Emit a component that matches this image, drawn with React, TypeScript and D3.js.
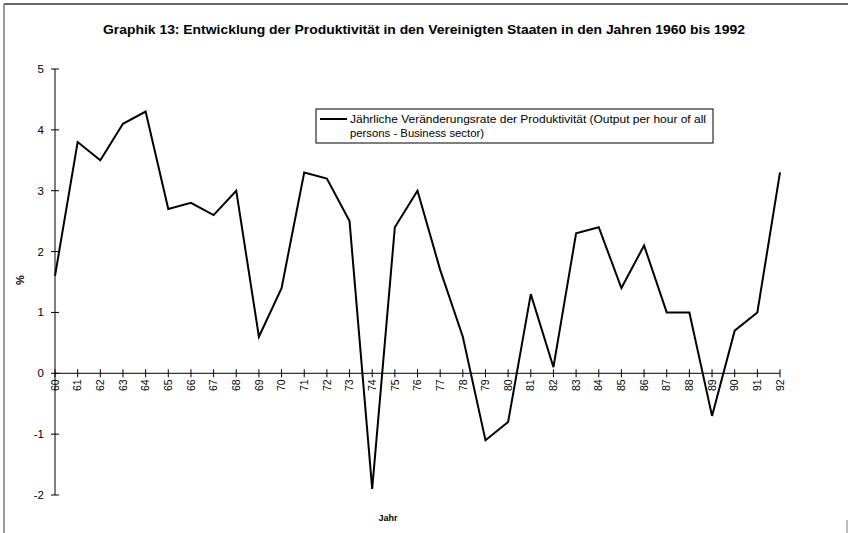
import React from "react";
import * as d3 from "d3";

const years = [60,61,62,63,64,65,66,67,68,69,70,71,72,73,74,75,76,77,78,79,80,81,82,83,84,85,86,87,88,89,90,91,92];
const values = [1.6,3.8,3.5,4.1,4.3,2.7,2.8,2.6,3.0,0.6,1.4,3.3,3.2,2.5,-1.9,2.4,3.0,1.7,0.6,-1.1,-0.8,1.3,0.1,2.3,2.4,1.4,2.1,1.0,1.0,-0.7,0.7,1.0,3.3];
const yTicks = [-2,-1,0,1,2,3,4,5];
const title = "Graphik 13: Entwicklung der Produktivität in den Vereinigten Staaten in den Jahren 1960 bis 1992";
const legendLine1 = "Jährliche Veränderungsrate der Produktivität (Output per hour of all";
const legendLine2 = "persons - Business sector)";
const xTitle = "Jahr";
const yTitle = "%";

export default function App() {
  const W = 848, H = 533;
  const x = d3.scaleLinear().domain([60, 92]).range([55, 780]);
  const y = d3.scaleLinear().domain([-2, 5]).range([495, 69]);
  const line = d3.line<number>().x((_, i) => x(years[i])).y((d) => y(d));
  const font = "'Liberation Sans', Arial, sans-serif";
  return (
    <svg width={W} height={H} style={{ position: "absolute", left: 0, top: 0, background: "#fff" }} fontFamily={font}>
      <line x1={4} y1={4} x2={848} y2={4} stroke="#333" strokeWidth={1.5} />
      <line x1={4} y1={4} x2={4} y2={533} stroke="#555" strokeWidth={1.2} />
      <line x1={847} y1={520} x2={847} y2={533} stroke="#777" strokeWidth={1} />
      <text x={103} y={34} fontWeight="bold" fontSize={13} textLength={642} lengthAdjust="spacingAndGlyphs">{title}</text>
      {/* y axis */}
      <line x1={x(60)} x2={x(60)} y1={y(5)} y2={y(-2)} stroke="#000" strokeWidth={1} />
      {yTicks.map((t) => (
        <g key={t}>
          <line x1={x(60) - 4} x2={x(60) + 4} y1={y(t)} y2={y(t)} stroke="#000" />
          <text x={x(60) - 11} y={y(t)} dy="0.35em" textAnchor="end" fontSize={11.5}>{t < 0 ? "-" + Math.abs(t) : t}</text>
        </g>
      ))}
      {/* x axis */}
      <line x1={x(60)} x2={x(92)} y1={y(0)} y2={y(0)} stroke="#000" strokeWidth={1} />
      {years.map((yr) => (
        <g key={yr}>
          <line x1={x(yr)} x2={x(yr)} y1={y(0) - 4} y2={y(0) + 4} stroke="#000" />
          <text transform={`translate(${x(yr)},${y(0) + 6}) rotate(-90)`} dy="0.35em" textAnchor="end" fontSize={10.5}>{yr}</text>
        </g>
      ))}
      <path d={line(values) || ""} fill="none" stroke="#000" strokeWidth={2} strokeLinejoin="miter" />
      {/* legend */}
      <rect x={316} y={109} width={397} height={34} fill="#fff" stroke="#000" strokeWidth={1} />
      <line x1={320} x2={347} y1={119} y2={119} stroke="#000" strokeWidth={2} />
      <text x={350} y={123} fontSize={11} textLength={356} lengthAdjust="spacingAndGlyphs">{legendLine1}</text>
      <text x={350} y={137} fontSize={11} textLength={134} lengthAdjust="spacingAndGlyphs">{legendLine2}</text>
      <text x={388} y={521} textAnchor="middle" fontWeight="bold" fontSize={9}>{xTitle}</text>
      <text transform={`translate(20,280) rotate(-90)`} textAnchor="middle" dy="0.35em" fontWeight="bold" fontSize={11}>{yTitle}</text>
    </svg>
  );
}
